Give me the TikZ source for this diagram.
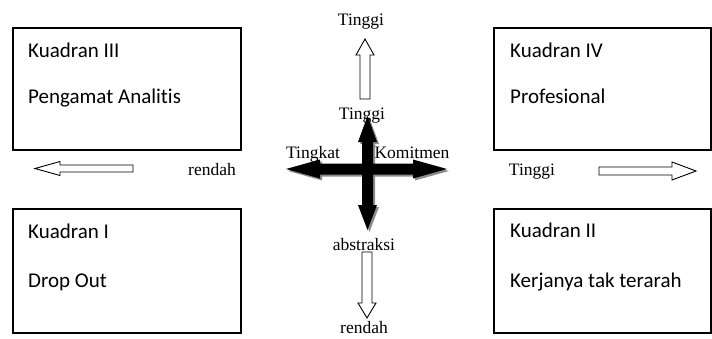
\documentclass[tikz,border=0pt]{standalone}
\usepackage{fontspec}
\setmainfont{Liberation Serif}
\newfontfamily\boxfont[Ligatures=NoCommon]{Carlito}
\begin{document}
\begin{tikzpicture}[x=1pt,y=-1pt,
  quad/.style={draw=black,line width=1.2pt},
  quadtext/.style={anchor=base west,inner sep=0pt,font=\boxfont\fontsize{21}{25}\selectfont},
  lbl/.style={anchor=base,inner sep=0pt,font=\fontsize{17.5}{20}\selectfont},
  hollow/.style={draw=black,fill=white,line width=0.9pt,line join=miter},
  solid/.style={fill=black},
  shade/.style={fill=black!45}]
\useasboundingbox (0,0) rectangle (712,338);

% quadrant boxes
\draw[quad] (13,28) rectangle (241,150);
\draw[quad] (13,209) rectangle (241,333);
\draw[quad] (494,28) rectangle (711,150);
\draw[quad] (494,209) rectangle (711,333);

\node[quadtext] (q3a) at (28,57) {Kuadran III};
\node[quadtext] (q3b) at (28,103) {Pengamat Analitis};
\node[quadtext] (q4a) at (510,57) {Kuadran IV};
\node[quadtext] (q4b) at (510,103) {Profesional};
\node[quadtext] (q1a) at (28,238) {Kuadran I};
\node[quadtext] (q1b) at (28,287) {Drop Out};
\node[quadtext] (q2a) at (510,237) {Kuadran II};
\node[quadtext] (q2b) at (510,287) {Kerjanya tak terarah};

% hollow block arrows
\draw[hollow] (360,99) -- (360,55) -- (356,55) -- (365,39) -- (374,55) -- (370,55) -- (370,99) -- cycle;
\draw[hollow] (362,252) -- (362,303) -- (358,303) -- (367,318) -- (376,303) -- (372,303) -- (372,252) -- cycle;
\draw[hollow] (133,165) -- (60,165) -- (60,161.5) -- (35,168.5) -- (60,175.5) -- (60,172) -- (133,172) -- cycle;
\draw[hollow] (599,167) -- (672,167) -- (672,162) -- (696,171) -- (672,180) -- (672,175) -- (599,175) -- cycle;

% solid cross of arrows with its shadow
\def\crosspath{(367.5,116) -- (377,142) -- (373,142) -- (373,163.5) -- (413,163.5) -- (413,159.5) -- (447,169) -- (413,178.5) -- (413,174.5) -- (373,174.5) -- (373,205) -- (377,205) -- (367.5,230) -- (358,205) -- (362,205) -- (362,174.5) -- (320,174.5) -- (320,178.5) -- (286,169) -- (320,159.5) -- (320,163.5) -- (362,163.5) -- (362,142) -- (358,142) -- cycle}
\fill[shade,shift={(2pt,-2pt)}] \crosspath;
\fill[solid] \crosspath;

% serif labels
\node[lbl] (ttop) at (361,25) {Tinggi};
\node[lbl] (tmid) at (362,119) {Tinggi};
\node[lbl] (tingkat) at (313,158) {Tingkat};
\node[lbl] (komit) at (412,158) {Komitmen};
\node[lbl] (abs) at (364,250) {abstraksi};
\node[lbl] (rbot) at (364,333) {rendah};
\node[lbl] (rleft) at (212,175) {rendah};
\node[lbl] (tright) at (532,175) {Tinggi};
\end{tikzpicture}
\end{document}
